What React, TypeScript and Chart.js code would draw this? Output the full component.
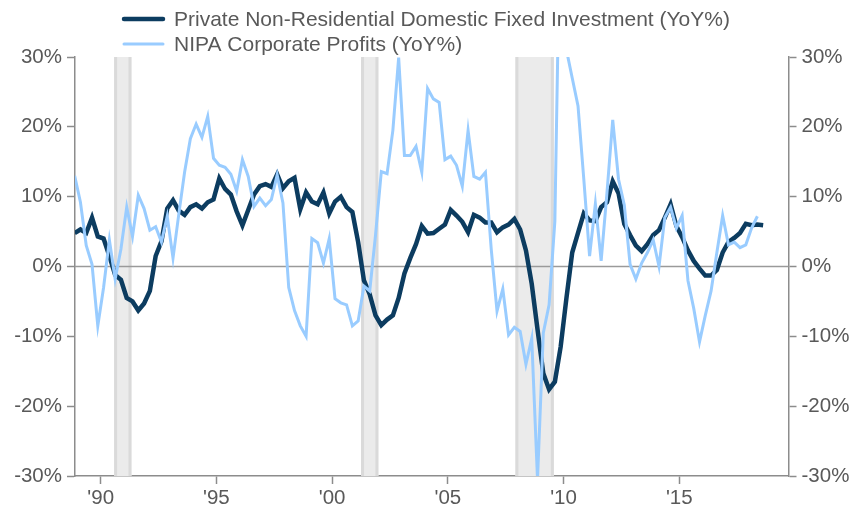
import React, { useEffect, useRef } from "react";
import { Chart, registerables } from "chart.js";

Chart.register(...registerables);

// Quarterly observations, first quarter = 1988 Q4
const START_YEAR = 1988;
const START_QUARTER = 4;

const seriesNames = [
  "Private Non-Residential Domestic Fixed Investment (YoY%)",
  "NIPA Corporate Profits (YoY%)",
];

const investment = [
  4.8, 5.3, 4.8, 7.0, 4.3, 4.0, 1.5, -1.2, -1.9, -4.5,
  -5.0, -6.3, -5.3, -3.5, 1.5, 3.6, 8.3, 9.5, 8.0, 7.4,
  8.5, 8.9, 8.3, 9.2, 9.6, 12.6, 11.1, 10.3, 7.9, 5.9,
  8.1, 10.3, 11.5, 11.8, 11.4, 13.2, 11.2, 12.2, 12.7, 8.2,
  10.6, 9.3, 8.9, 10.6, 7.6, 9.3, 10.0, 8.5, 7.8, 3.5,
  -2.0, -4.0, -7.0, -8.4, -7.6, -7.0, -4.5, -1.0, 1.2, 3.2,
  5.8, 4.7, 4.8, 5.4, 6.0, 8.1, 7.3, 6.4, 4.9, 7.4,
  7.0, 6.3, 6.3, 4.9, 5.6, 6.0, 6.8, 5.3, 2.3, -2.5,
  -9.0, -15.3, -17.6, -16.5, -11.5, -4.5, 2.0, 4.8, 7.6, 6.6,
  6.5, 8.5, 9.2, 12.2, 10.5, 6.1, 4.5, 3.0, 2.2, 3.2,
  4.5, 5.2, 7.0, 8.9, 5.8, 4.2, 2.3, 0.8, -0.3, -1.3,
  -1.3, -0.5, 2.0, 3.5, 4.1, 4.8, 6.1, 5.9, 6.0, 5.9,
];

const profits = [
  13.0, 9.2, 3.0, 0.3, -8.5, -3.0, 3.8, -1.8, 2.5, 8.5,
  4.3, 10.2, 8.3, 5.2, 5.7, 3.5, 7.2, 1.2, 7.5, 13.5,
  18.3, 20.4, 18.5, 21.5, 15.5, 14.5, 14.2, 13.2, 10.8, 15.3,
  12.9, 8.6, 9.8, 8.7, 9.6, 13.1, 9.1, -3.0, -6.3, -8.5,
  -10.0, 4.0, 3.4, 0.5, 4.0, -4.6, -5.2, -5.5, -8.5, -7.8,
  -2.8, -3.5, 4.5, 13.6, 13.3, 19.5, 29.9, 15.9, 15.9, 17.2,
  13.5, 25.5, 24.0, 23.5, 15.3, 15.8, 14.5, 11.5, 19.5, 12.9,
  12.5, 13.5, 2.5, -6.4, -3.2, -9.8, -8.7, -9.3, -14.0, -10.3,
  -30.5, -9.5, -5.5, 6.5, 55.0, 31.0, 27.0, 23.0, 12.5, 1.5,
  9.0, 0.8, 10.5, 21.0, 12.5, 8.8, 0.3, -1.8, 0.5, 2.0,
  3.8, 0.0, 7.0, 8.5, 5.5, 7.3, -2.0, -6.0, -10.8, -7.0,
  -3.5, 2.0, 7.3, 3.1, 3.5, 2.7, 3.1, 5.5, 7.2,
];

// Recessions (start, end) in decimal years
const recessions = [
  [1990.58, 1991.33],
  [2001.25, 2002.0],
  [2007.92, 2009.58],
];

const xTicks = [1990, 1995, 2000, 2005, 2010, 2015];
const yTicks = [-30, -20, -10, 0, 10, 20, 30];

const X_MIN = 1988.89;
const X_MAX = 2019.72;

const DARK = "#0C3C60";
const LIGHT = "#99CCFF";
const TEXT = "#595959";
const AXIS = "#8C8C8C";
const FONT = "'Liberation Sans', Arial, Helvetica, sans-serif";

function quarterDate(i: number): number {
  const q0 = START_YEAR * 4 + (START_QUARTER - 1) + i;
  return Math.floor(q0 / 4) + (q0 % 4) * 0.25 + 0.125;
}

const toPoints = (arr: number[]) => arr.map((v, i) => ({ x: quarterDate(i), y: v }));

const bandsPlugin = {
  id: "recessionBands",
  beforeDatasetsDraw(chart: any) {
    const { ctx, chartArea, scales } = chart;
    const xs = scales.x;
    ctx.save();
    for (const [s, e] of recessions) {
      const x1 = xs.getPixelForValue(s);
      const x2 = xs.getPixelForValue(e);
      ctx.fillStyle = "#EBEBEB";
      ctx.fillRect(x1, chartArea.top, x2 - x1, chartArea.bottom - chartArea.top);
      ctx.fillStyle = "#DADADA";
      ctx.fillRect(x1, chartArea.top, 3, chartArea.bottom - chartArea.top);
      ctx.fillRect(x2 - 3, chartArea.top, 3, chartArea.bottom - chartArea.top);
    }
    // zero line
    const y0 = scales.y.getPixelForValue(0);
    ctx.strokeStyle = "#9A9A9A";
    ctx.lineWidth = 1.5;
    ctx.beginPath();
    ctx.moveTo(chartArea.left, y0);
    ctx.lineTo(chartArea.right, y0);
    ctx.stroke();
    ctx.restore();
  },
};

const legendPlugin = {
  id: "customLegend",
  afterDraw(chart: any) {
    const { ctx } = chart;
    const rows = [
      { label: seriesNames[0], color: DARK, width: 4.5, y: 19 },
      { label: seriesNames[1], color: LIGHT, width: 3, y: 44 },
    ];
    ctx.save();
    for (const r of rows) {
      ctx.strokeStyle = r.color;
      ctx.lineWidth = r.width;
      ctx.lineCap = "round";
      ctx.beginPath();
      ctx.moveTo(124, r.y);
      ctx.lineTo(163, r.y);
      ctx.stroke();
      ctx.fillStyle = TEXT;
      ctx.font = `21px ${FONT}`;
      ctx.textBaseline = "middle";
      ctx.textAlign = "left";
      ctx.fillText(r.label, 174, r.y + 1);
    }
    ctx.restore();
  },
};

export default function App() {
  const canvasRef = useRef<HTMLCanvasElement | null>(null);

  useEffect(() => {
    document.body.style.margin = "0";
    const canvas = canvasRef.current;
    if (!canvas) return;
    const yAxisCommon = (side: "left" | "right") => ({
      type: "linear" as const,
      position: side,
      min: -30,
      max: 30,
      afterBuildTicks: (axis: any) => {
        axis.ticks = yTicks.map((v) => ({ value: v }));
      },
      afterFit: (axis: any) => {
        axis.width = side === "left" ? 75 : 75.5;
      },
      ticks: {
        color: TEXT,
        font: { family: FONT, size: 20.5 },
        padding: 5,
        callback: (v: any) => `${v}%`,
      },
      grid: {
        drawOnChartArea: false,
        drawTicks: true,
        tickLength: 8,
        tickColor: AXIS,
        tickWidth: 1.5,
      },
      border: { display: true, color: AXIS, width: 1.5 },
    });

    const chart = new Chart(canvas, {
      type: "line",
      data: {
        datasets: [
          {
            label: seriesNames[0],
            data: toPoints(investment),
            borderColor: DARK,
            backgroundColor: DARK,
            borderWidth: 4.5,
            pointRadius: 0,
            tension: 0,
            order: 1,
            yAxisID: "y",
          },
          {
            label: seriesNames[1],
            data: toPoints(profits),
            borderColor: LIGHT,
            backgroundColor: LIGHT,
            borderWidth: 3,
            pointRadius: 0,
            tension: 0,
            order: 0,
            yAxisID: "y",
          },
        ],
      },
      options: {
        responsive: false,
        animation: false,
        devicePixelRatio: 1,
        layout: { padding: { top: 57, left: 0, right: 0, bottom: 0 } },
        plugins: {
          legend: { display: false },
          tooltip: { enabled: false },
        },
        scales: {
          x: {
            type: "linear",
            min: X_MIN,
            max: X_MAX,
            afterBuildTicks: (axis: any) => {
              axis.ticks = xTicks.map((v) => ({ value: v }));
            },
            afterFit: (axis: any) => {
              axis.height = 30;
            },
            ticks: {
              color: TEXT,
              font: { family: FONT, size: 20.5 },
              padding: 2,
              maxRotation: 0,
              autoSkip: false,
              callback: (v: any) => `'${String(v).slice(2)}`,
            },
            grid: {
              drawOnChartArea: false,
              drawTicks: true,
              tickLength: 8,
              tickColor: AXIS,
              tickWidth: 1.5,
            },
            border: { display: true, color: AXIS, width: 1.5 },
          },
          y: yAxisCommon("left"),
          y2: yAxisCommon("right"),
        },
      } as any,
      plugins: [bandsPlugin, legendPlugin],
    });
    return () => chart.destroy();
  }, []);

  return (
    <div style={{ position: "absolute", left: 0, top: 0, width: 864, height: 506 }}>
      <canvas ref={canvasRef} width={864} height={506} />
    </div>
  );
}
